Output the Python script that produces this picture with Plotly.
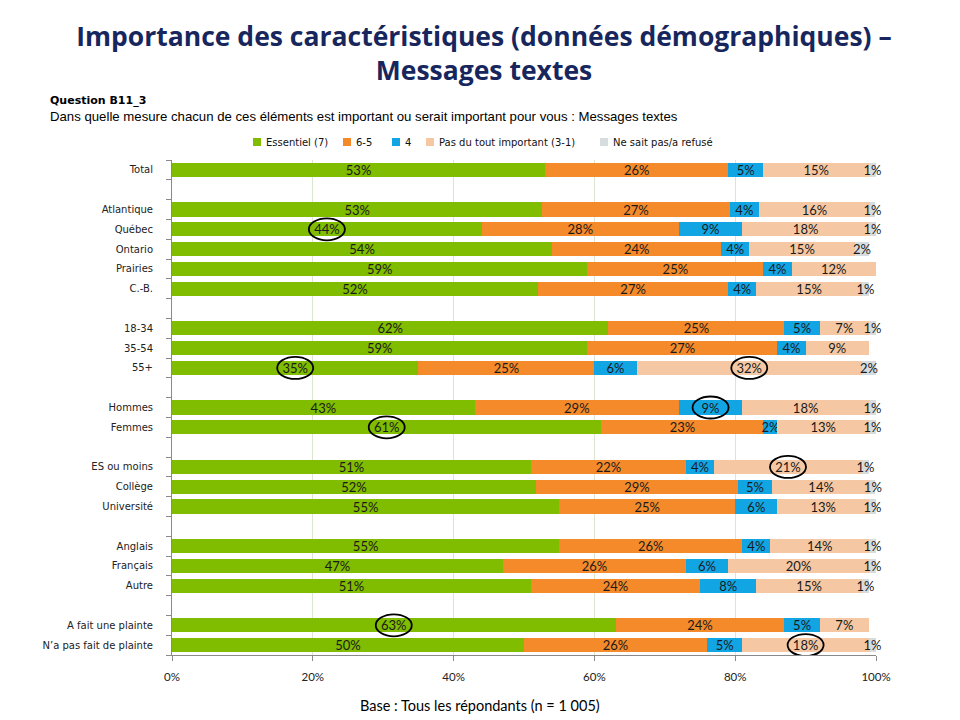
import plotly.graph_objects as go

# ---- data ----
groups = [
    ["Total"],
    ["Atlantique", "Québec", "Ontario", "Prairies", "C.-B."],
    ["18-34", "35-54", "55+"],
    ["Hommes", "Femmes"],
    ["ES ou moins", "Collège", "Université"],
    ["Anglais", "Français", "Autre"],
    ["A fait une plainte", "N’a pas fait de plainte"],
]
series_names = ["Essentiel (7)", "6-5", "4", "Pas du tout important (3-1)", "Ne sait pas/a refusé"]
essentiel = [53, 52.6, 44, 54, 59, 52, 62, 59, 35, 43, 61, 51, 51.7, 55, 55, 47, 51, 63, 50]
s65 =       [26, 26.6, 28, 24, 25, 27, 25, 27, 25, 29, 23, 22, 28.7, 25, 26, 26, 24, 24, 26]
s4 =        [5, 4.2, 9, 4, 4, 4, 5, 4, 6, 9, 2, 4, 4.8, 6, 4, 6, 8, 5, 5]
s31 =       [15, 15.7, 18, 15, 12, 15, 7, 9, 32, 18, 13, 21, 14.0, 13, 14, 20, 15, 7, 18]
nsp =       [1, 0.8, 1, 2, 0, 1, 1, 0, 2, 1, 1, 1, 0.7, 1, 1, 1, 1, 0, 1]
circled = [("Québec", 0), ("55+", 0), ("55+", 3), ("Hommes", 2), ("Femmes", 0),
           ("ES ou moins", 3), ("A fait une plainte", 0), ("N’a pas fait de plainte", 3)]
colors = ["#80BC00", "#F58A2A", "#12A5E3", "#F5C8A3", "#D7DCDF"]
x_ticks = [0, 20, 40, 60, 80, 100]

# ---- layout geometry (figure pixels) ----
W, H = 952, 712
ML, MR, MT, MB = 164, 84, 152, 65
PW, PH = W - ML - MR, H - MT - MB

def px(xf):   # figure x pixel -> paper x
    return (xf - ML) / PW

def py(yf):   # figure y pixel -> paper y
    return (H - MB - yf) / PH

# ---- row positions (a blank row between groups) ----
cats, ypos = [], []
row = 0
for gi, g in enumerate(groups):
    if gi > 0:
        row += 1
    for c in g:
        cats.append(c)
        ypos.append(row)
        row += 1
nrows = row

all_series = [essentiel, s65, s4, s31, nsp]
fig = go.Figure()
for name, vals, col in zip(series_names, all_series, colors):
    fig.add_trace(go.Bar(
        y=ypos, x=vals, name=name, orientation="h",
        marker=dict(color=col, line=dict(width=0)),
        width=0.72,
        text=[f"{v:.0f}%" if v > 0 else "" for v in vals],
        textposition="inside", insidetextanchor="middle", textangle=0,
        textfont=dict(family="Lato", size=13, color="#1a1a1a"),
        cliponaxis=False,
        hoverinfo="skip", showlegend=False,
    ))

# circles around highlighted labels
for cat, si in circled:
    i = cats.index(cat)
    start = sum(all_series[k][i] for k in range(si))
    mid = start + all_series[si][i] / 2
    fig.add_shape(type="circle", xref="x", yref="y",
                  xsizemode="pixel", ysizemode="pixel",
                  xanchor=mid, yanchor=ypos[i],
                  x0=-18, x1=18, y0=-11, y1=11,
                  line=dict(color="#000000", width=1.8), layer="above")

# manual legend
leg_x = [245, 335, 384, 418, 592]
leg_y = 134
for name, col, lx in zip(series_names, colors, leg_x):
    fig.add_shape(type="rect", xref="paper", yref="paper",
                  xsizemode="pixel", ysizemode="pixel",
                  xanchor=px(lx), yanchor=py(leg_y), x0=0, x1=8, y0=-4, y1=4,
                  line=dict(width=0), fillcolor=col)
    fig.add_annotation(text=name, xref="paper", yref="paper", x=px(lx + 11), y=py(leg_y),
                       xanchor="left", yanchor="middle", showarrow=False,
                       font=dict(family="DejaVu Sans", size=10, color="#111"))

fig.update_layout(
    barmode="stack",
    width=W, height=H,
    margin=dict(l=ML, r=MR, t=MT, b=MB, autoexpand=False),
    paper_bgcolor="white", plot_bgcolor="white",
    uniformtext=dict(mode="show", minsize=13),
    title=dict(
        text="Importance des caractéristiques (données démographiques) –<br>Messages textes",
        x=0.5, xanchor="center", y=1 - 38 / H, yanchor="middle",
        font=dict(family="Open Sans", size=26.5, color="#17275E", weight="bold"),
    ),
    showlegend=False,
)
fig.update_xaxes(range=[0, 100], tickvals=x_ticks, ticktext=[f"{t}%" for t in x_ticks],
                 showgrid=True, gridcolor="#DCE6CF", gridwidth=1,
                 showline=True, linecolor="#8A8A8A", linewidth=1,
                 ticks="outside", ticklen=5, tickcolor="#8A8A8A", ticklabelstandoff=6,
                 tickfont=dict(family="Lato", size=11.5, color="#222"), zeroline=False)
fig.update_yaxes(range=[nrows - 0.5, -0.5], tickvals=ypos, ticktext=cats,
                 showgrid=False, showline=True, linecolor="#8A8A8A", linewidth=1,
                 ticks="", ticklabelstandoff=16,
                 minor=dict(ticks="outside", ticklen=5, tickcolor="#8A8A8A", tick0=0.5, dtick=1, showgrid=False),
                 tickfont=dict(family="DejaVu Sans", size=10, color="#222"), zeroline=False)

fig.add_annotation(text="<b>Question B11_3</b>", xref="paper", yref="paper",
                   x=px(40), y=py(92), xanchor="left", yanchor="middle", showarrow=False,
                   font=dict(family="DejaVu Sans", size=11, color="#000"))
fig.add_annotation(text="Dans quelle mesure chacun de ces éléments est important ou serait important pour vous : Messages textes",
                   xref="paper", yref="paper", x=px(40), y=py(108), xanchor="left", yanchor="middle",
                   showarrow=False, font=dict(family="Liberation Sans", size=13.2, color="#000"))
fig.add_annotation(text="Base : Tous les répondants (n = 1 005)", xref="paper", yref="paper",
                   x=px(472), y=py(697), xanchor="center", yanchor="middle", showarrow=False,
                   font=dict(family="Lato", size=14.5, color="#000"))

fig.write_html("out.html")
